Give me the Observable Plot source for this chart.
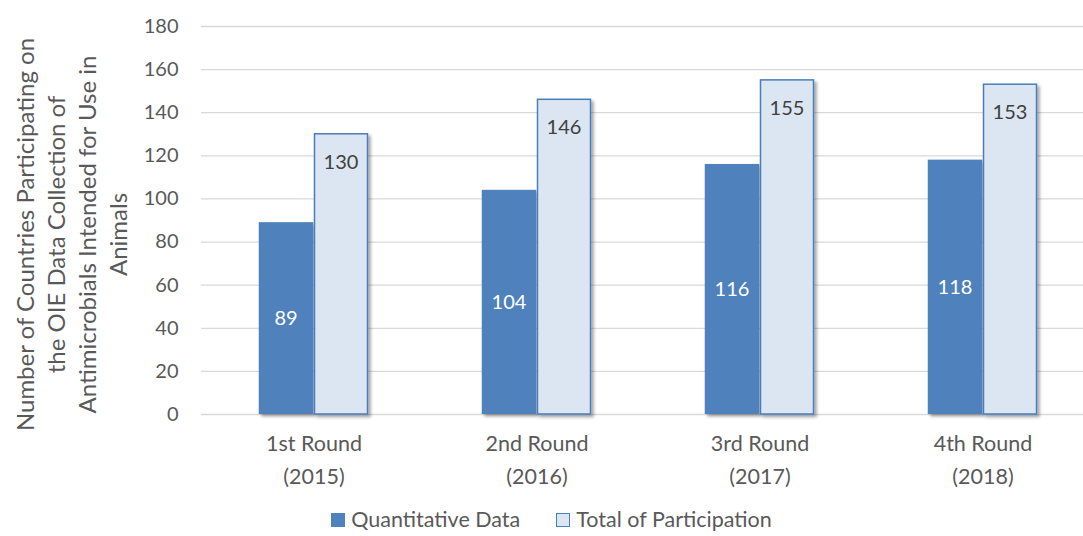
<!DOCTYPE html>
<html><head><meta charset="utf-8">
<script src="https://cdn.jsdelivr.net/npm/d3@7"></script>
<script src="https://cdn.jsdelivr.net/npm/@observablehq/plot@0.6"></script>
<style>
body{margin:0;background:#fff;font-family:Lato,"Open Sans",sans-serif;overflow:hidden;}
#legend{display:flex;justify-content:center;align-items:center;height:30px;margin-top:5px;padding-left:20px;font-size:21.5px;line-height:1;color:#595959;gap:36px;}
#legend span.item{display:flex;align-items:center;gap:6px;}
#legend span.sw{display:inline-block;width:14px;height:14px;box-sizing:border-box;}
</style>
</head><body>
<div id="chart"></div>
<div id="legend"></div>
<script>
const rounds = ["1st Round\n(2015)", "2nd Round\n(2016)", "3rd Round\n(2017)", "4th Round\n(2018)"];
const quantitative = [89, 104, 116, 118];
const total = [130, 146, 155, 153];
const yTicks = [0, 20, 40, 60, 80, 100, 120, 140, 160, 180];
const seriesNames = ["Quantitative Data", "Total of Participation"];
const yTitle = "Number of Countries Participating on\nthe OIE Data Collection of\nAntimicrobials Intended for Use in\nAnimals";

const dark = "#4f81bd", light = "#dce6f2", stroke = "#4a7ebb";
const qData = rounds.map((r, i) => ({round: r, value: quantitative[i]}));
const tData = rounds.map((r, i) => ({round: r, value: total[i]}));

const chart = Plot.plot({
  width: 1083,
  height: 500,
  marginLeft: 201,
  marginRight: 0,
  marginTop: 26,
  marginBottom: 86,
  style: {fontFamily: "Lato, 'Open Sans', sans-serif", background: "#fff", overflow: "visible"},
  x: {domain: rounds, range: [201.25, 1095.25], padding: 0, label: null},
  y: {domain: [0, 180], label: null},
  marks: [
    Plot.ruleY(yTicks, {stroke: "#d9d9d9", strokeWidth: 1.3}),
    Plot.axisY({ticks: yTicks, tickSize: 0, tickPadding: 23, fontSize: 20, fill: "#595959", label: null}),
    Plot.axisX({tickSize: 0, tickPadding: 14, fontSize: 21.5, fill: "#595959", lineHeight: 1.5, label: null}),
    Plot.barY(qData, {x: "round", y: "value", fill: dark, insetLeft: 56.75, insetRight: 111.75}),
    Plot.barY(tData, {x: "round", y: "value", fill: light, stroke: stroke, strokeWidth: 1.5, insetLeft: 112.5, insetRight: 57.5}),
    Plot.text(qData, {x: "round", y: d => d.value / 2, text: d => String(d.value), dx: -28, fill: "#fff", fontSize: 20}),
    Plot.text(tData, {x: "round", y: "value", text: d => String(d.value), dx: 27, dy: 28, fill: "#404040", fontSize: 20}),
    Plot.text([yTitle], {frameAnchor: "left", dx: -131, dy: 14, rotate: -90, textAnchor: "middle", lineAnchor: "middle", lineHeight: 1.29, fontSize: 24, fill: "#595959", text: d => d})
  ]
});

// drop shadow on bars
const ns = "http://www.w3.org/2000/svg";
const defs = document.createElementNS(ns, "defs");
defs.innerHTML = '<filter id="sh" x="-20%" y="-20%" width="150%" height="150%"><feDropShadow dx="2.5" dy="2.5" stdDeviation="1.8" flood-color="#000" flood-opacity="0.35"/></filter>';
chart.insertBefore(defs, chart.firstChild);
chart.querySelectorAll('g[aria-label="bar"]').forEach(g => g.setAttribute("filter", "url(#sh)"));
document.getElementById("chart").appendChild(chart);

const legend = document.getElementById("legend");
seriesNames.forEach((name, i) => {
  const item = document.createElement("span");
  item.className = "item";
  const sw = document.createElement("span");
  sw.className = "sw";
  sw.style.background = i === 0 ? dark : light;
  if (i === 1) sw.style.border = "1.5px solid " + stroke;
  item.appendChild(sw);
  item.appendChild(document.createTextNode(name));
  legend.appendChild(item);
});
</script>
</body></html>
